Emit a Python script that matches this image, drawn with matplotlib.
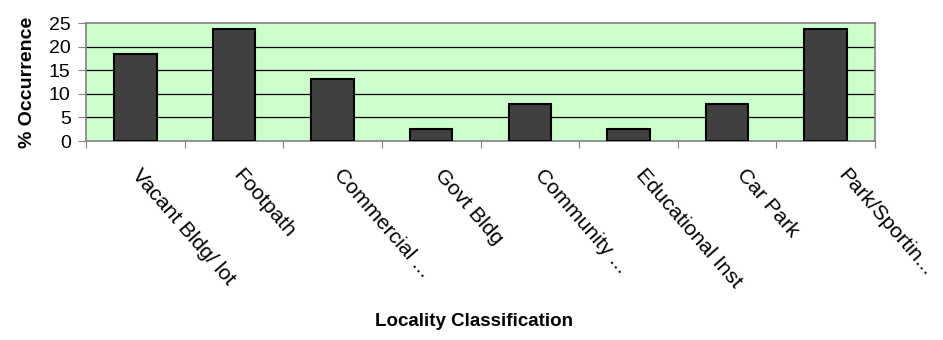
import matplotlib.pyplot as plt
import numpy as np

# Data
categories = ["Vacant Bldg/ lot", "Footpath", "Commercial ...", "Govt Bldg",
              "Community ...", "Educational Inst", "Car Park", "Park/Sportin..."]
occurrence = [18.4, 23.7, 13.2, 2.6, 7.9, 2.6, 7.9, 23.7]
y_ticks = [0, 5, 10, 15, 20, 25]

plt.rcParams["font.family"] = ["Liberation Sans", "DejaVu Sans"]

fig = plt.figure(figsize=(9.43, 3.4), dpi=100)
ax = fig.add_axes([86 / 943, 1 - 141 / 340, (875 - 86) / 943, (141 - 23) / 340])

x = np.arange(len(categories))
ax.set_facecolor("#ccffcc")
ax.bar(x, occurrence, width=0.43, color="#404040", edgecolor="black",
       linewidth=1.5, zorder=3)

ax.set_xlim(-0.5, len(categories) - 0.5)
ax.set_ylim(0, 25)
ax.set_yticks(y_ticks)
ax.tick_params(axis="y", labelsize=14, length=6, color="#808080", pad=5)
for v in y_ticks[1:-1]:
    ax.axhline(v, color="black", linewidth=0.9, zorder=1)

# category ticks sit on the boundaries; the rotated labels drift slightly
# right of the centers, as in the original
ax.set_xticks(np.arange(len(categories) + 1) - 0.5)
ax.set_xticklabels([])
ax.tick_params(axis="x", length=5, color="#808080")
for xi, label in zip(x, categories):
    ax.text(xi * 1.023 + 0.07, -5.1, label, rotation=-49,
            rotation_mode="anchor", ha="left", va="top", fontsize=15.3,
            clip_on=False)

for side in ax.spines.values():
    side.set_color("#808080")
    side.set_linewidth(1.2)

ax.set_ylabel("% Occurrence", fontsize=14, fontweight="bold", labelpad=9)
fig.text(474 / 943, 1 - 322 / 340, "Locality Classification", ha="center",
         va="center", fontsize=13.5, fontweight="bold")

fig.savefig("out.png", dpi=100)
